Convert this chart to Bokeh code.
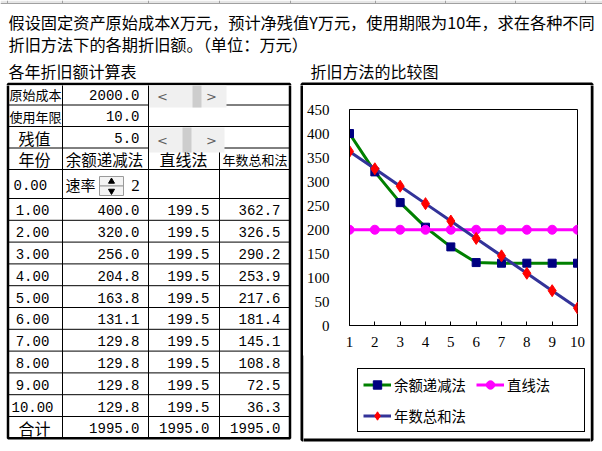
from bokeh.plotting import figure
from bokeh.models import Range1d, Legend, LegendItem, FixedTicker
from bokeh.layouts import column, row
from bokeh.core.properties import value
from bokeh.embed import file_html
from bokeh.resources import INLINE

# ---------------- data ----------------
years = [1, 2, 3, 4, 5, 6, 7, 8, 9, 10]
ddb = [400.0, 320.0, 256.0, 204.8, 163.8, 131.1, 129.8, 129.8, 129.8, 129.8]
sl = [199.5, 199.5, 199.5, 199.5, 199.5, 199.5, 199.5, 199.5, 199.5, 199.5]
syd = [362.7, 326.5, 290.2, 253.9, 217.6, 181.4, 145.1, 108.8, 72.5, 36.3]
totals = [1995.0, 1995.0, 1995.0]
params_labels = ["原始成本", "使用年限", "残值"]
params_values = [2000.0, 10.0, 5.0]
rate = 2
series_names = ["余额递减法", "直线法", "年数总和法"]
series_line_colors = ["#008000", "#FF00FF", "#333399"]
series_marker_colors = ["#000080", "#FF00FF", "#FF0000"]
series_markers = ["square", "circle", "diamond"]
y_ticks = [0, 50, 100, 150, 200, 250, 300, 350, 400, 450]

CJK = "Noto Sans CJK SC"
MONO = "Liberation Mono"
SERIF = "Liberation Serif"


def blank(x0, x1, y0, y1):
    f = figure(width=int(x1 - x0), height=int(y1 - y0), x_range=Range1d(x0, x1),
               y_range=Range1d(y1, y0), min_border=0, output_backend="svg",
               toolbar_location=None, x_axis_location=None, y_axis_location=None)
    f.grid.visible = False
    f.outline_line_color = None
    f.background_fill_color = "white"
    f.border_fill_color = "white"
    return f


def chart_box(f):
    f.quad(left=[301.5], right=[591.5], top=[83.5], bottom=[439.5], fill_color=None,
           line_color="black", line_width=3)


row_top = [82.7, 104.5, 126, 147.5, 169, 198]
rh = 21.8
data_lines = [198 + rh * k for k in range(1, 12)]
bottom_y = data_lines[-1]


def table_lines(f):
    hl = row_top[1:] + data_lines[:-1]
    f.segment(x0=[7] * len(hl), y0=hl, x1=[290] * len(hl), y1=hl, line_color="black", line_width=1)
    f.segment(x0=[62, 148, 219], y0=[82.7, 82.7, 147.5], x1=[62, 148, 219], y1=[bottom_y] * 3,
              line_color="black", line_width=1)
    f.quad(left=[7.5], right=[289.5], top=[83.5], bottom=[bottom_y], fill_color=None,
           line_color="black", line_width=2.5)
    # scrollbars
    f.quad(left=[148.5, 148.5], right=[226, 224], top=[84.5, 127], bottom=[107, 152],
           fill_color="#F0F0F0", line_color=None)
    f.quad(left=[192, 182], right=[201, 191], top=[84.5, 127], bottom=[107, 152],
           fill_color="#CDCDCD", line_color=None)


TOP_H = 85

# ---------------- top (title) ----------------
top = blank(0, 602, 0, TOP_H)
top.quad(left=[0], right=[602], top=[0], bottom=[3], fill_color="#E6E6E6", line_color=None)
top.segment(x0=[0], y0=[3], x1=[602], y1=[3], line_color="#A0A0A0", line_width=1)
top.segment(x0=[7, 62, 148, 219, 290, 375, 445, 515, 585], y0=[0] * 9,
            x1=[7, 62, 148, 219, 290, 375, 445, 515, 585], y1=[3] * 9, line_color="#A0A0A0")
top.text(x=[8, 8], y=[21, 43],
         text=["假设固定资产原始成本X万元，预计净残值Y万元，使用期限为10年，求在各种不同",
               "折旧方法下的各期折旧额。（单位：万元）"],
         text_font=value(CJK), text_font_size="16.2px", text_baseline="middle", text_color="black")
top.text(x=[8, 310], y=[70, 70], text=["各年折旧额计算表", "折旧方法的比较图"],
         text_font=value(CJK), text_font_size="16px", text_baseline="middle", text_color="black")
table_lines(top)
chart_box(top)

# ---------------- table ----------------
t = blank(0, 303, TOP_H, 451)
table_lines(t)
chart_box(t)
t.text(x=[162, 211, 162, 211], y=[95.5, 95.5, 139.5, 139.5], text=["<", ">", "<", ">"],
       text_font=value("DejaVu Sans"), text_font_size="13px", text_align="center",
       text_baseline="middle", text_color="#606060")

pr_y = [94, 115.5, 137]
t.text(x=[9, 9], y=pr_y[:2], text=params_labels[:2], text_font=value(CJK),
       text_font_size="13px", text_baseline="middle")
t.text(x=[34], y=[pr_y[2]], text=[params_labels[2]], text_font=value(CJK),
       text_font_size="16px", text_baseline="middle", text_align="center")
t.text(x=[139] * 3, y=pr_y, text=["%.1f" % v for v in params_values], text_font=value(MONO),
       text_font_size="14px", text_baseline="middle", text_align="right")

t.text(x=[34, 104, 183], y=[158.5] * 3, text=["年份", series_names[0], series_names[1]],
       text_font=value(CJK), text_font_size=["16px", "15.5px", "16px"], text_baseline="middle",
       text_align="center")
t.text(x=[254.5], y=[158.5], text=[series_names[2]], text_font=value(CJK),
       text_font_size="13px", text_baseline="middle", text_align="center")

t.text(x=[13], y=[184], text=["%.2f" % 0], text_font=value(MONO), text_font_size="14px",
       text_baseline="middle")
t.text(x=[65], y=[184], text=["速率"], text_font=value(CJK), text_font_size="15px",
       text_baseline="middle")
t.quad(left=[99, 99], right=[123, 123], top=[176, 185.5], bottom=[185.5, 195],
       fill_color="#F4F4F4", line_color="#9A9A9A", line_width=1)
t.scatter(x=[111], y=[181], marker="triangle", size=6, fill_color="black", line_color="black")
t.scatter(x=[111], y=[190.5], marker="inverted_triangle", size=6, fill_color="black",
          line_color="black")
t.text(x=[135], y=[185], text=[str(rate)], text_font=value(SERIF), text_font_size="17px",
       text_baseline="middle", text_align="center")

ys = [198 + rh * (k + 0.5) + 1 for k in range(len(years))]
t.text(x=[32] * len(years), y=ys, text=["%.2f" % v for v in years], text_font=value(MONO),
       text_font_size="14px", text_baseline="middle", text_align="center")
t.text(x=[139] * len(years), y=ys, text=["%.1f" % v for v in ddb], text_font=value(MONO),
       text_font_size="14px", text_baseline="middle", text_align="right")
t.text(x=[209] * len(years), y=ys, text=["%.1f" % v for v in sl], text_font=value(MONO),
       text_font_size="14px", text_baseline="middle", text_align="right")
t.text(x=[280] * len(years), y=ys, text=["%.1f" % v for v in syd], text_font=value(MONO),
       text_font_size="14px", text_baseline="middle", text_align="right")
ty = 198 + rh * 10.5 + 1
t.text(x=[34], y=[ty], text=["合计"], text_font=value(CJK), text_font_size="16px",
       text_baseline="middle", text_align="center")
t.text(x=[139, 209, 280], y=[ty] * 3, text=["%.1f" % v for v in totals], text_font=value(MONO),
       text_font_size="14px", text_baseline="middle", text_align="right")

# ---------------- chart (page x 303..590, y 85..355) ----------------
C_H = 270
c = figure(width=287, height=C_H, x_range=Range1d(1, 10), y_range=Range1d(0, 450),
           output_backend="svg", toolbar_location=None,
           min_border_left=46, min_border_right=13, min_border_top=24, min_border_bottom=30)
c.grid.visible = False
c.outline_line_color = "black"
c.outline_line_width = 1
c.background_fill_color = "white"
c.border_fill_color = "white"
c.xaxis.ticker = FixedTicker(ticks=years)
c.yaxis.ticker = FixedTicker(ticks=y_ticks)
for ax in (c.xaxis[0], c.yaxis[0]):
    ax.axis_line_color = "black"
    ax.axis_line_width = 1
    ax.minor_tick_line_color = None
    ax.major_label_text_font = SERIF
    ax.major_label_text_font_size = "15px"
    ax.major_label_text_color = "black"
c.xaxis.major_tick_in = 4
c.xaxis.major_tick_out = 0
c.xaxis.major_tick_line_color = "black"
c.xaxis.major_label_standoff = 11
c.yaxis.major_tick_in = 0
c.yaxis.major_tick_out = 0
c.yaxis.major_label_standoff = 20

series = [ddb, sl, syd]
sizes = [8, 9, 12]
for vals, lc, mc, mk, sz in zip(series, series_line_colors, series_marker_colors,
                                series_markers, sizes):
    c.line(years, vals, line_color=lc, line_width=3)
    c.scatter(years, vals, marker=mk, size=sz, fill_color=mc, line_color=mc)

# ---------------- legend area (page x 303..590, y 355..451) ----------------
lg = blank(303, 590, TOP_H + C_H, 451)
chart_box(lg)
items = []
for vals, name, lc, mc, mk, sz in zip(series, series_names, series_line_colors,
                                      series_marker_colors, series_markers, sizes):
    # same series, but this panel's ranges keep them out of view: only the legend keys show
    rl = lg.line(years, vals, line_color=lc, line_width=3)
    rm = lg.scatter(years, vals, marker=mk, size=sz, fill_color=mc, line_color=mc)
    items.append(LegendItem(label=name, renderers=[rl, rm]))
legend = Legend(items=items, location=(54, 19), orientation="horizontal", ncols=2,
                label_width=72, label_height=20,
                glyph_width=28, glyph_height=21, label_standoff=3, spacing=10,
                padding=5, margin=0, border_line_color="black", border_line_width=1,
                border_line_alpha=1, background_fill_color="white", background_fill_alpha=1,
                label_text_font=CJK, label_text_font_size="14.4px", label_text_color="black")
lg.add_layout(legend)

# ---------------- right strip (page x 590..602) ----------------
rs = blank(590, 602, TOP_H, 451)
chart_box(rs)

layout = column(top, row(column(t), column(column(c), column(lg)), column(rs)))
open("out.html", "w").write(file_html(layout, INLINE))
